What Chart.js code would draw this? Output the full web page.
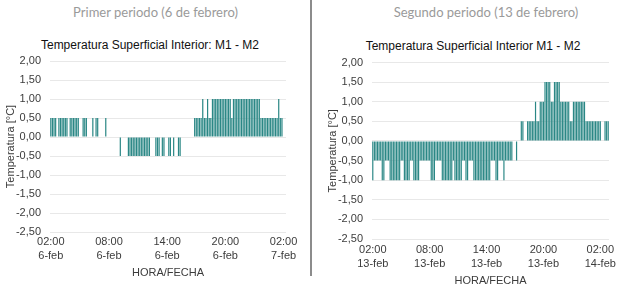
<!DOCTYPE html>
<html>
<head>
<meta charset="utf-8">
<script src="https://cdn.jsdelivr.net/npm/chart.js"></script>
<style>
  body { margin: 0; background: #fff; }
  #page { position: relative; width: 624px; height: 288px; overflow: hidden; font-family: 'Liberation Sans', Arial, sans-serif; }
  .periodo { position: absolute; top: 3px; font-family: Lato, sans-serif; font-size: 13px; line-height: 18px; color: #9a9a9a; text-align: center; white-space: nowrap; }
  .titulo { position: absolute; font-size: 12px; line-height: 14px; color: #111; text-align: center; white-space: nowrap; }
  canvas { position: absolute; top: 0; }
  #divisor { position: absolute; left: 310px; top: 0; width: 2px; height: 276px; background: #8c8c8c; }
</style>
</head>
<body>
<div id="page">
  <div class="periodo" style="left:0;width:311px">Primer periodo (6 de febrero)</div>
  <div class="periodo" style="left:348px;width:276px">Segundo periodo (13 de febrero)</div>
  <div class="titulo" style="left:0;width:300px;top:37.5px">Temperatura Superficial Interior: M1 - M2</div>
  <div class="titulo" style="left:322px;width:302px;top:38.5px">Temperatura Superficial Interior M1 - M2</div>
  <div id="divisor"></div>
  <canvas id="grafico1" width="310" height="288" style="left:0"></canvas>
  <canvas id="grafico2" width="302" height="288" style="left:322px"></canvas>
</div>
<script>
// categorias cada 10 minutos desde las 02:00
function categorias(n) {
  let out = [];
  for (let i = 0; i < n; i++) {
    let m = 120 + i * 10;
    let h = Math.floor(m / 60) % 24;
    out.push(String(h).padStart(2, '0') + ':' + String(m % 60).padStart(2, '0'));
  }
  return out;
}

const horas1 = categorias(146);
const horas2 = categorias(150);

const tickHoras = ['02:00', '08:00', '14:00', '20:00', '02:00'];
const tickFechas1 = ['6-feb', '6-feb', '6-feb', '6-feb', '7-feb'];
const tickFechas2 = ['13-feb', '13-feb', '13-feb', '13-feb', '14-feb'];

// diferencia M1 - M2 [°C], 6 de febrero
const difFeb6 = [
  0.5, 0.5, 0.5, 0.5, 0, 0.5, 0.5, 0.5, 0.5, 0.5, 0.5, 0,
  0.5, 0.5, 0.5, 0.5, 0.5, 0.5, 0, 0, 0.5, 0.5, 0.5, 0,
  0, 0, 0.5, 0, 0.5, 0.5, 0, 0, 0, 0, 0.5, 0,
  0, 0, 0, 0, 0, 0, 0, -0.5, 0, 0, 0, 0,
  -0.5, -0.5, -0.5, -0.5, -0.5, -0.5, -0.5, -0.5, -0.5, -0.5, -0.5, -0.5,
  -0.5, -0.5, 0, 0, 0, -0.5, -0.5, -0.5, 0, -0.5, -0.5, 0,
  0, -0.5, -0.5, 0, -0.5, 0, 0, -0.5, -0.5, 0, 0, 0,
  0, 0, 0, 0, 0, 0.5, 0.5, 0.5, 0.5, 0.5, 1, 0.5,
  0.5, 1, 0.5, 0.5, 1, 1, 1, 1, 1, 1, 1, 1,
  1, 1, 1, 1, 0.5, 1, 1, 1, 1, 1, 1, 1,
  1, 1, 1, 1, 1, 1, 1, 1, 1, 1, 0.5, 0.5,
  0.5, 0.5, 0.5, 0.5, 0.5, 0.5, 0.5, 0.5, 0.5, 1, 0.5, 0.5,
  0, 0
];

// diferencia M1 - M2 [°C], 13 de febrero
const difFeb13 = [
  -1, -0.5, -0.5, -0.5, -0.5, -0.5, -1, -1, -0.5, -0.5, -0.5, -1,
  -1, -1, -1, -1, -1, -1, -0.5, -0.5, -1, -1, -1, -1,
  -0.5, -0.5, -1, -1, -1, -1, -0.5, -0.5, -0.5, -0.5, -0.5, -0.5,
  -0.5, -1, -1, -1, -0.5, -0.5, -0.5, -0.5, -1, -1, -1, -1,
  -1, -1, -1, -0.5, -1, -1, -1, -1, -1, -0.5, -0.5, -1,
  -1, -0.5, -0.5, -0.5, -1, -1, -1, -1, -1, -1, -1, -1,
  -1, -1, -1, -0.5, -0.5, -0.5, -1, -1, -0.5, -0.5, -0.5, -1,
  -0.5, -0.5, -0.5, -0.5, -0.5, 0, 0, -0.5, 0, 0, 0.5, 0.5,
  0, 0, 0.5, 0.5, 0.5, 0.5, 0.5, 1, 0.5, 0.5, 1, 1,
  1, 1.5, 1.5, 1.5, 1.5, 1, 1, 1.5, 1.5, 1.5, 1.5, 1,
  1, 1, 1, 1, 1, 0.5, 0.5, 1, 1, 1, 1, 1,
  1, 1, 1, 0.5, 0.5, 0.5, 0.5, 0.5, 0.5, 0.5, 0.5, 0.5,
  0.5, 0, 0, 0.5, 0.5, 0.5
];

Chart.defaults.font.family = "'Liberation Sans', Arial, sans-serif";
Chart.defaults.color = '#3c3c3c';

function crearGrafico(id, labels, datos, fechas, cfg) {
  return new Chart(document.getElementById(id), {
    type: 'bar',
    data: {
      labels: labels,
      datasets: [{
        data: datos,
        backgroundColor: '#2a8785',
        barPercentage: 0.75,
        categoryPercentage: 1
      }]
    },
    options: {
      responsive: false,
      animation: false,
      layout: { padding: { top: cfg.top, right: cfg.right, bottom: 0, left: 0 } },
      plugins: { legend: { display: false }, tooltip: { enabled: false } },
      scales: {
        x: {
          grid: { display: false, drawTicks: false },
          border: { display: false },
          ticks: {
            autoSkip: false, maxRotation: 0, minRotation: 0, padding: cfg.tickPad,
            font: { size: 11, lineHeight: 1.36 },
            callback: (v, i) => i % 36 === 0 ? [tickHoras[i / 36], fechas[i / 36]] : null
          },
          title: { display: true, text: 'HORA/FECHA', font: { size: 11 }, padding: { top: 0, bottom: cfg.titlePad } },
          afterFit: (s) => { s.height = cfg.xHeight; }
        },
        y: {
          min: -2.5,
          max: 2,
          ticks: { stepSize: 0.5, padding: 9, font: { size: 11 }, callback: (v) => v.toFixed(2).replace('.', ',') },
          grid: { color: '#e8e8e8', drawTicks: false },
          border: { display: false },
          title: { display: true, text: 'Temperatura [°C]', font: { size: 11 }, padding: { top: 4, bottom: 0 } },
          afterFit: (s) => { s.width = 50; }
        }
      }
    }
  });
}

const chart1 = crearGrafico('grafico1', horas1, difFeb6, tickFechas1, { top: 61, right: 24, xHeight: 56, titlePad: 8.6, tickPad: 2 });
const chart2 = crearGrafico('grafico2', horas2, difFeb13, tickFechas2, { top: 62.5, right: 15, xHeight: 49, titlePad: 0, tickPad: 3 });
</script>
</body>
</html>
